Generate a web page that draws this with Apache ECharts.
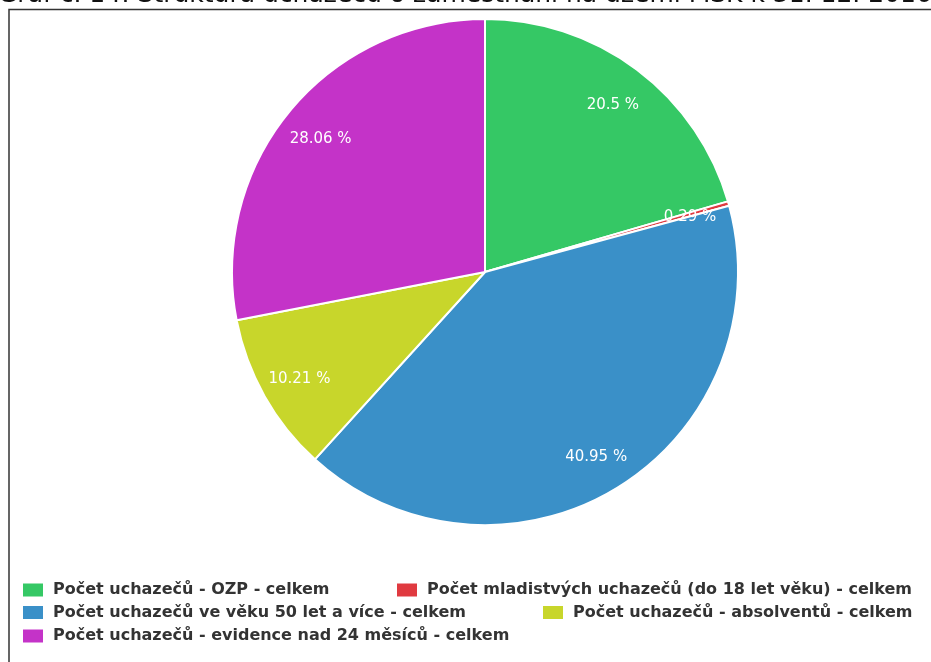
<!DOCTYPE html>
<html>
<head>
<meta charset="utf-8">
<script src="https://cdn.jsdelivr.net/npm/echarts@6/dist/echarts.min.js"></script>
<style>
  html, body { margin: 0; padding: 0; background: #fff; }
  #chart { width: 931px; height: 662px; }
</style>
</head>
<body>
<div id="chart"></div>
<script>
// kategorie uchazečů a jejich podíly (%)
const categories = [
  "Počet uchazečů - OZP - celkem",
  "Počet mladistvých uchazečů (do 18 let věku) - celkem",
  "Počet uchazečů ve věku 50 let a více - celkem",
  "Počet uchazečů - absolventů - celkem",
  "Počet uchazečů - evidence nad 24 měsíců - celkem"
];
const shares = [20.5, 0.29, 40.95, 10.21, 28.06];
const colors = ["#35c865", "#e03a40", "#3a90c8", "#c8d62b", "#c433c8"];
const titleText = "Graf č. 14: Struktura uchazečů o zaměstnání na území MSK k 31. 12. 2016";

const chart = echarts.init(document.getElementById("chart"));

const pieData = categories.map((name, i) => ({ name: name, value: shares[i] }));

// pozice položek legendy (levý okraj ikony, horní okraj řádku)
const legendPos = [[21, 581.5], [395, 581.5], [21, 604], [541, 604], [21, 627.5]];

const legends = categories.map((name, i) => ({
  data: [name],
  left: legendPos[i][0],
  top: legendPos[i][1],
  padding: 0,
  icon: "rect",
  itemWidth: 22,
  itemHeight: 15,
  selectedMode: false,
  textStyle: {
    fontFamily: "DejaVu Sans",
    fontSize: 16,
    fontWeight: "bold",
    lineHeight: 16,
    color: "#333",
    padding: [0, 0, 0, 4]
  }
}));

const option = {
  color: colors,
  animation: false,
  graphic: [
    {
      type: "text",
      left: -2,
      top: -17,
      style: {
        text: titleText,
        font: "25px DejaVu Sans",
        fill: "#111"
      }
    },
    {
      type: "rect",
      shape: { x: 9, y: 9.5, width: 960, height: 700 },
      style: { fill: "none", stroke: "#333", lineWidth: 1.5 }
    }
  ],
  legend: legends,
  series: [
    {
      // hlavní koláč
      type: "pie",
      center: [485, 272],
      radius: 253,
      startAngle: 90,
      clockwise: true,
      label: { show: false },
      labelLine: { show: false },
      itemStyle: { borderColor: "#fff", borderWidth: 2 },
      emphasis: { disabled: true },
      data: pieData
    },
    {
      // průhledný prstenec jen pro popisky
      type: "pie",
      center: [485, 272],
      radius: [167, 253],
      startAngle: 90,
      clockwise: true,
      silent: true,
      legendHoverLink: false,
      itemStyle: { color: "transparent", borderWidth: 0 },
      label: {
        show: true,
        position: "inside",
        formatter: "{c} %",
        color: "#fff",
        fontFamily: "DejaVu Sans",
        fontSize: 15,
        offset: [0, 3]
      },
      labelLine: { show: false },
      emphasis: { disabled: true },
      data: pieData
    }
  ]
};

chart.setOption(option);
</script>
</body>
</html>
